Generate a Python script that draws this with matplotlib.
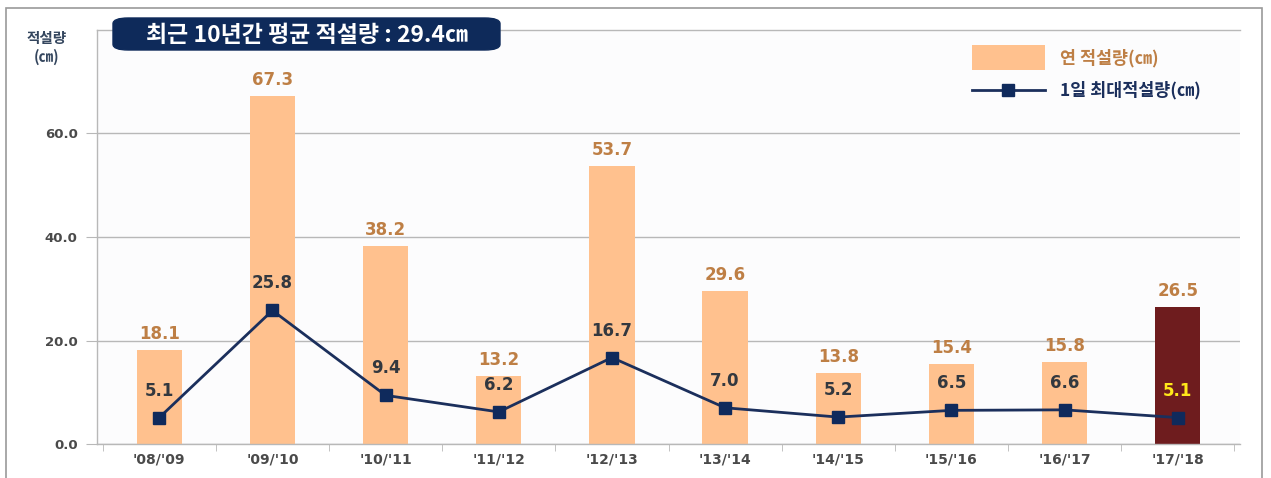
import matplotlib
matplotlib.use("Agg")
import matplotlib.pyplot as plt
from matplotlib.patches import FancyBboxPatch, Rectangle
from matplotlib.lines import Line2D

plt.rcParams['font.family'] = ['Noto Sans CJK KR', 'DejaVu Sans']
NUM_FONT = ['DejaVu Sans', 'Noto Sans CJK KR']

categories = ["'08/'09", "'09/'10", "'10/'11", "'11/'12", "'12/'13",
              "'13/'14", "'14/'15", "'15/'16", "'16/'17", "'17/'18"]
annual_snow = [18.1, 67.3, 38.2, 13.2, 53.7, 29.6, 13.8, 15.4, 15.8, 26.5]
daily_max = [5.1, 25.8, 9.4, 6.2, 16.7, 7.0, 5.2, 6.5, 6.6, 5.1]
yticks = [0, 20, 40, 60]

W, H = 1271, 478
fig = plt.figure(figsize=(W / 100, H / 100), dpi=100)
fig.patch.set_facecolor('white')

def fx(px):
    return px / W

def fy(py):
    return 1 - py / H

ax = fig.add_axes([fx(97), fy(444), fx(1240) - fx(97), fy(30) - fy(444)])
ax.set_facecolor('#FCFCFD')

bar_color = '#FFC18E'
last_color = '#6E1C1E'
line_color = '#1B2F5C'
x = list(range(len(categories)))
colors = [bar_color] * (len(categories) - 1) + [last_color]
ax.bar(x, annual_snow, width=0.4, color=colors, zorder=2)
ax.plot(x, daily_max, color=line_color, lw=2, marker='s', markersize=9,
        markerfacecolor='#0F2A5C', markeredgecolor='#0F2A5C', zorder=4)

for i, v in enumerate(annual_snow):
    ax.annotate(f"{v:.1f}", (i, v), xytext=(0, 5), textcoords='offset points',
                ha='center', va='bottom', fontsize=12, fontweight='bold',
                family=NUM_FONT, color='#BE7F45', zorder=5)
for i, v in enumerate(daily_max):
    c = '#FFE81A' if i == len(daily_max) - 1 else '#33383F'
    ax.annotate(f"{v:.1f}", (i, v), xytext=(0, 13), textcoords='offset points',
                ha='center', va='bottom', fontsize=12, fontweight='bold',
                family=NUM_FONT, color=c, zorder=5)

ax.set_xlim(-0.55, len(categories) - 0.45)
ax.set_ylim(0, 80)
ax.set_yticks(yticks)
ax.set_yticklabels([f"{t:.1f}" for t in yticks], fontsize=9.5, fontweight='bold',
                   color='#4A4A4A', family=NUM_FONT)
ax.yaxis.grid(True, color='#B8B8B8', lw=1, zorder=0)
ax.tick_params(axis='y', length=8, color='#B8B8B8', pad=6)

ax.set_xticks(x)
ax.set_xticklabels(categories, fontsize=10, fontweight='bold', color='#4A4A4A',
                   family=NUM_FONT)
ax.tick_params(axis='x', length=0, pad=6)
ax.set_xticks([i + 0.5 for i in range(-1, len(categories))], minor=True)
ax.tick_params(axis='x', which='minor', length=5, color='#B8B8B8')

ax.spines['right'].set_visible(False)
for s in ['left', 'bottom', 'top']:
    ax.spines[s].set_color('#B8B8B8')
    ax.spines[s].set_linewidth(1)

# Y axis title
fig.text(fx(47), fy(38), "적설량", ha='center', va='center', fontsize=10.5,
         fontweight='bold', color='#34465E')
fig.text(fx(47), fy(57), "(㎝)", ha='center', va='center', fontsize=10.5,
         fontweight='bold', color='#34465E')

# Title box
box = FancyBboxPatch((fx(113), fy(50)), fx(500) - fx(113), fy(18) - fy(50),
                     boxstyle="round,pad=0,rounding_size=0.012",
                     transform=fig.transFigure, facecolor='#0E2A5A',
                     edgecolor='#0E2A5A', zorder=10)
fig.patches.append(box)
fig.text(fx(307), fy(35), "최근 10년간 평균 적설량 : 29.4㎝", ha='center',
         va='center', fontsize=16.5, fontweight='bold', color='white', zorder=11)

# Legend
fig.patches.append(Rectangle((fx(972), fy(70)), fx(1045) - fx(972), fy(45) - fy(70),
                             transform=fig.transFigure, facecolor=bar_color,
                             edgecolor='none', zorder=10))
fig.text(fx(1060), fy(58), "연 적설량(㎝)", ha='left', va='center', fontsize=12.5,
         fontweight='bold', color='#BE7F45', zorder=11)
fig.lines.append(Line2D([fx(972), fx(1045)], [fy(90), fy(90)],
                        transform=fig.transFigure, color=line_color, lw=2, zorder=10))
fig.lines.append(Line2D([fx(1008)], [fy(90)], transform=fig.transFigure,
                        marker='s', markersize=8, color='#0F2A5C', lw=0, zorder=11))
fig.text(fx(1060), fy(90), "1일 최대적설량(㎝)", ha='left', va='center', fontsize=12.5,
         fontweight='bold', color='#1B2F5C', zorder=11)

# Outer frame
fig.patches.append(Rectangle((fx(6), fy(485)), fx(1262) - fx(6), fy(8) - fy(485),
                             transform=fig.transFigure, facecolor='none',
                             edgecolor='#9A9A9A', lw=1.2, zorder=12))

fig.savefig("out.png", dpi=100, facecolor='white')
